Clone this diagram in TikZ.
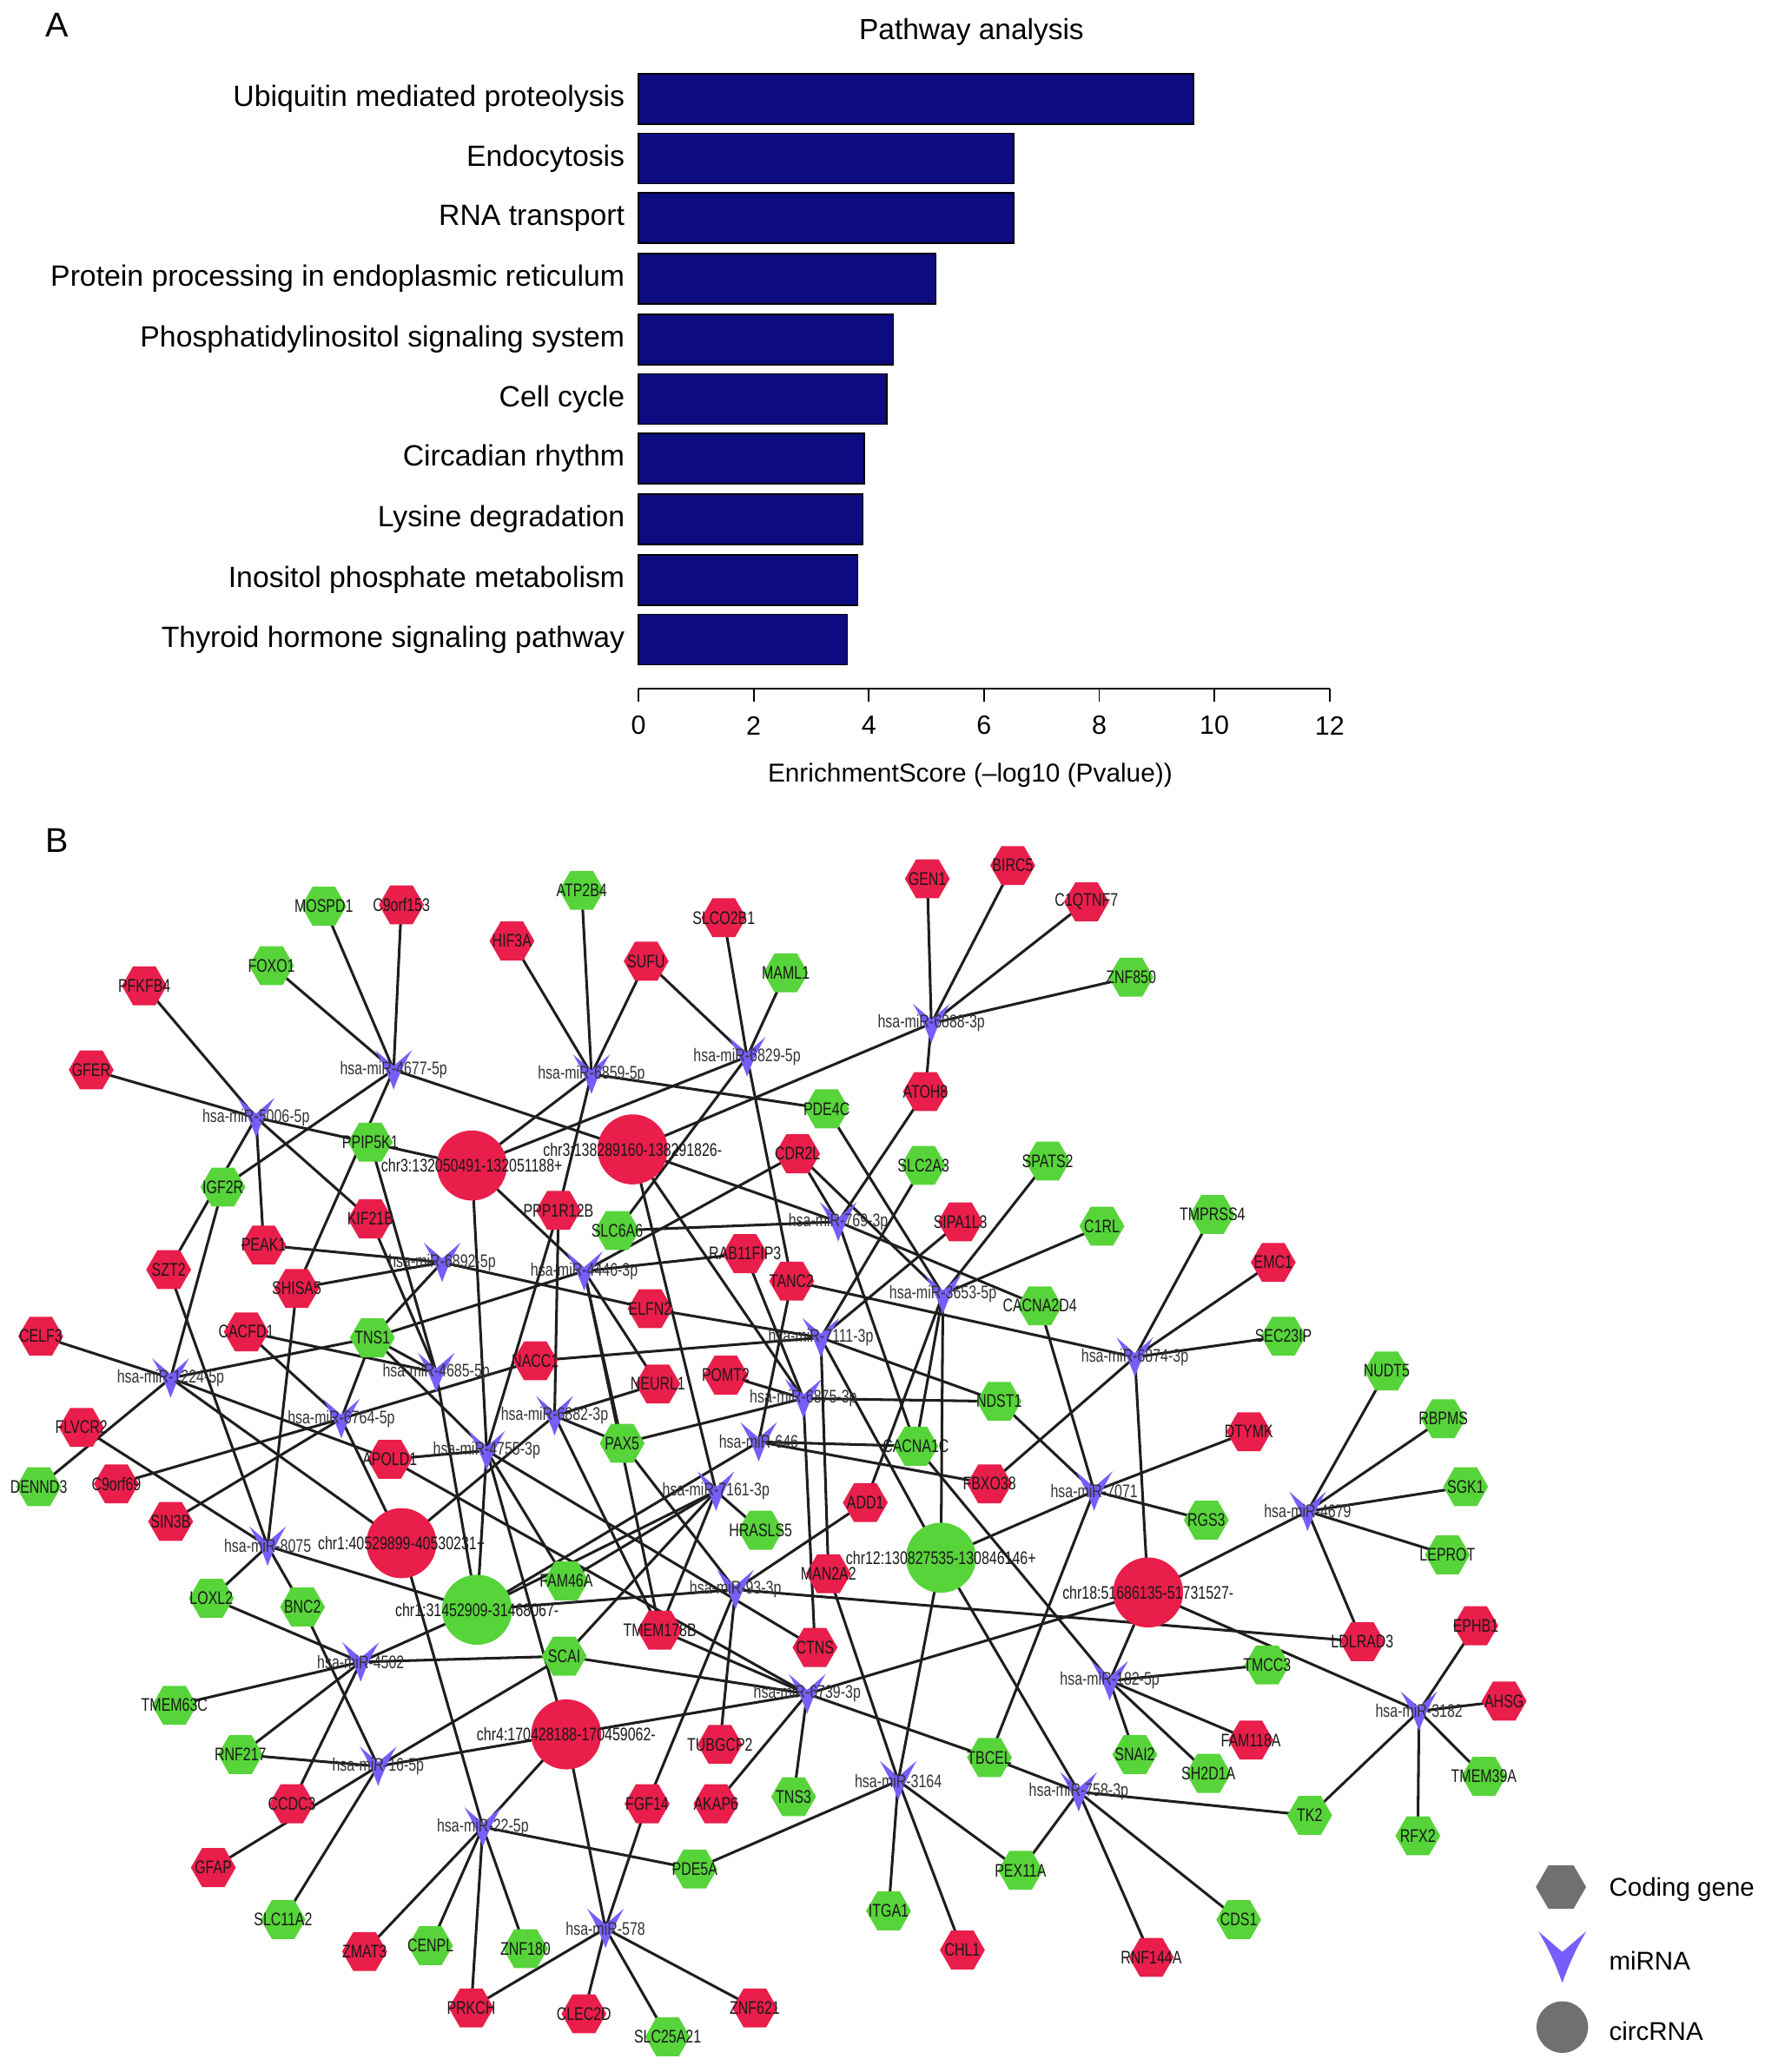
\documentclass[tikz,border=0pt]{standalone}
\usepackage{fontspec}
\setmainfont{Liberation Sans}
\usetikzlibrary{shapes.geometric,backgrounds}
\definecolor{gred}{RGB}{233,30,75}
\definecolor{ggreen}{RGB}{87,212,58}
\definecolor{mirc}{RGB}{118,94,250}
\definecolor{navy}{RGB}{12,12,128}
\definecolor{lgray}{RGB}{112,112,112}
\definecolor{txt}{RGB}{25,25,25}
\definecolor{mtxt}{RGB}{50,50,50}
\definecolor{edgec}{RGB}{30,30,30}
\newcommand{\lab}[1]{\scalebox{0.76}[1]{#1}}
\newcommand{\gene}[5]{\node[hex,fill=#1,label={[lbl]center:\lab{#5}}] (#2) at (#3,#4) {};}
\newcommand{\circrna}[5]{\node[circ,fill=#1,label={[lbl]center:\lab{#5}}] (#2) at (#3,#4) {};}
\newcommand{\mirshape}{(-14,-15) -- (0,-3) -- (14,-15) .. controls (8,-5) and (4,4) .. (0,15) .. controls (-4,4) and (-8,-5) .. (-14,-15) -- cycle}
\newcommand{\mirna}[4]{\fill[mirc,shift={(#2,#3)}] \mirshape;
  \node[lbl,text=mtxt] (#1) at (#2,#3) {\lab{#4}};}
\begin{document}
\begin{tikzpicture}[x=0.5pt,y=-0.5pt,
  lbl/.style={font=\fontsize{6.9pt}{7.5pt}\selectfont, text=txt, inner sep=0pt},
  hex/.style={regular polygon, regular polygon sides=6, minimum size=17pt, inner sep=0pt, draw=none},
  circ/.style={circle, minimum size=26.5pt, inner sep=0pt, draw=none},
  edge/.style={draw=edgec, line width=1pt},
  cat/.style={anchor=east, inner sep=0pt, font=\fontsize{11.1pt}{13pt}\selectfont},
  bar/.style={fill=navy, draw=black, line width=0.5pt},
  legt/.style={anchor=west, inner sep=0pt, font=\fontsize{9.7pt}{11pt}\selectfont}]
\useasboundingbox (0,0) rectangle (1335,1568);

% ---------------- Panel A ----------------
\node[font=\fontsize{13pt}{15pt}\selectfont] (lA) at (43,19) {A};
\node[font=\fontsize{11pt}{13pt}\selectfont] (title) at (735,24) {Pathway analysis};
\foreach \n/\yc/\xe/\t in {1/75/903/Ubiquitin mediated proteolysis,
  2/120/767/Endocytosis,
  3/165/767/RNA transport,
  4/211/708/Protein processing in endoplasmic reticulum,
  5/257/676/Phosphatidylinositol signaling system,
  6/302/671/Cell cycle,
  7/347/654/Circadian rhythm,
  8/393/653/Lysine degradation,
  9/439/649/Inositol phosphate metabolism,
  10/484/641/Thyroid hormone signaling pathway} {
  \draw[bar] (483,\yc-19) rectangle (\xe,\yc+19);
  \node[cat] (cat\n) at (473,\yc) {\t};
}
\draw[line width=0.6pt] (483,521) -- (1006,521);
\foreach \i in {0,2,...,12} {
  \draw[line width=0.6pt] ({483+43.58*\i},521) -- ({483+43.58*\i},531);
  \node[font=\fontsize{10pt}{12pt}\selectfont] (t\i) at ({483+43.58*\i},549) {\i};
}
\node[font=\fontsize{9.8pt}{12pt}\selectfont] (xt) at (734,587) {EnrichmentScore (–log10 (Pvalue))};

% ---------------- Panel B ----------------
\node[font=\fontsize{13pt}{15pt}\selectfont] (lB) at (43,636) {B};

% circRNAs
\circrna{gred}{c132}{357}{882}{chr3:132050491-132051188+}
\circrna{gred}{c138}{478.6}{869.8}{chr3:138289160-138291826-}
\circrna{gred}{c405}{303.7}{1167.8}{chr1:40529899-40530231+}
\circrna{ggreen}{c1308}{711.9}{1178.8}{chr12:130827535-130846146+}
\circrna{ggreen}{c314}{360.9}{1218.2}{chr1:31452909-31468067-}
\circrna{gred}{c516}{868.6}{1205.1}{chr18:51686135-51731527-}
\circrna{gred}{c1704}{428.4}{1312.5}{chr4:170428188-170459062-}

% genes
\gene{gred}{GEN1}{701.6}{665}{GEN1}
\gene{gred}{BIRC5}{766.2}{655}{BIRC5}
\gene{gred}{C1QTNF7}{822}{682.5}{C1QTNF7}
\gene{ggreen}{ZNF850}{855.7}{739.5}{ZNF850}
\gene{gred}{ATOH8}{700.2}{826}{ATOH8}
\gene{ggreen}{MOSPD1}{245}{685.8}{MOSPD1}
\gene{gred}{C9orf153}{303.7}{684.7}{C9orf153}
\gene{ggreen}{ATP2B4}{440.1}{673.7}{ATP2B4}
\gene{gred}{HIF3A}{387.3}{712.1}{HIF3A}
\gene{ggreen}{FOXO1}{205.4}{730.7}{FOXO1}
\gene{gred}{PFKFB4}{109.2}{746}{PFKFB4}
\gene{gred}{GFER}{69}{809.6}{GFER}
\gene{ggreen}{PPIP5K1}{280.2}{864.3}{PPIP5K1}
\gene{gred}{SLCO2B1}{547.6}{694.5}{SLCO2B1}
\gene{gred}{SUFU}{488.9}{727.4}{SUFU}
\gene{ggreen}{MAML1}{594.5}{736.2}{MAML1}
\gene{ggreen}{PDE4C}{625.4}{839.1}{PDE4C}
\gene{gred}{CDR2L}{603.4}{873.1}{CDR2L}
\gene{ggreen}{SLC2A3}{698.7}{881.9}{SLC2A3}
\gene{ggreen}{SPATS2}{792.6}{878.6}{SPATS2}
\gene{ggreen}{IGF2R}{168.7}{898.3}{IGF2R}
\gene{gred}{KIF21B}{280.2}{922.4}{KIF21B}
\gene{gred}{PEAK1}{199.5}{942.2}{PEAK1}
\gene{gred}{SZT2}{127.6}{960.8}{SZT2}
\gene{gred}{SHISA5}{224.5}{975}{SHISA5}
\gene{gred}{CACFD1}{186.3}{1007.9}{CACFD1}
\gene{ggreen}{TNS1}{281.7}{1012.3}{TNS1}
\gene{gred}{CELF3}{30.8}{1011.2}{CELF3}
\gene{gred}{NACC1}{405}{1029.8}{NACC1}
\gene{gred}{FLVCR2}{61.6}{1080.2}{FLVCR2}
\gene{gred}{APOLD1}{294.9}{1104.3}{APOLD1}
\gene{gred}{C9orf69}{88}{1122.9}{C9orf69}
\gene{ggreen}{DENND3}{29.3}{1125.1}{DENND3}
\gene{gred}{PPP1R12B}{422.5}{915.9}{PPP1R12B}
\gene{ggreen}{SLC6A6}{466.9}{931.2}{SLC6A6}
\gene{gred}{RAB11FIP3}{563.7}{948.7}{RAB11FIP3}
\gene{gred}{TANC2}{599}{969.5}{TANC2}
\gene{gred}{SIPA1L3}{726.6}{924.6}{SIPA1L3}
\gene{ggreen}{C1RL}{833.7}{927.9}{C1RL}
\gene{ggreen}{CACNA2D4}{786.7}{988.2}{CACNA2D4}
\gene{gred}{ELFN2}{491.9}{990.4}{ELFN2}
\gene{gred}{NEURL1}{497.7}{1047.3}{NEURL1}
\gene{gred}{POMT2}{549.1}{1040.7}{POMT2}
\gene{ggreen}{NDST1}{755.9}{1060.5}{NDST1}
\gene{ggreen}{PAX5}{470.7}{1092.2}{PAX5}
\gene{ggreen}{CACNA1C}{692.9}{1094.4}{CACNA1C}
\gene{gred}{FBXO38}{748.6}{1122.9}{FBXO38}
\gene{gred}{ADD1}{654.7}{1137.1}{ADD1}
\gene{ggreen}{TMPRSS4}{917.3}{919.1}{TMPRSS4}
\gene{gred}{EMC1}{963.3}{955.3}{EMC1}
\gene{ggreen}{SEC23IP}{971}{1011.2}{SEC23IP}
\gene{ggreen}{NUDT5}{1049.1}{1037.5}{NUDT5}
\gene{ggreen}{RBPMS}{1092}{1073.6}{RBPMS}
\gene{gred}{DTYMK}{944.9}{1083.5}{DTYMK}
\gene{ggreen}{SGK1}{1108.9}{1125.1}{SGK1}
\gene{gred}{SIN3B}{129.1}{1151.4}{SIN3B}
\gene{ggreen}{LOXL2}{159.9}{1209.5}{LOXL2}
\gene{ggreen}{BNC2}{228.9}{1216.1}{BNC2}
\gene{ggreen}{FAM46A}{428.4}{1196.3}{FAM46A}
\gene{ggreen}{SCAI}{426.9}{1253.3}{SCAI}
\gene{ggreen}{TMEM63C}{132}{1290.5}{TMEM63C}
\gene{ggreen}{RNF217}{181.9}{1327.8}{RNF217}
\gene{gred}{CCDC3}{220.8}{1365}{CCDC3}
\gene{ggreen}{HRASLS5}{575.5}{1158}{HRASLS5}
\gene{gred}{MAN2A2}{626.8}{1190.9}{MAN2A2}
\gene{gred}{TMEM178B}{499.2}{1233.6}{TMEM178B}
\gene{gred}{CTNS}{616.6}{1246.7}{CTNS}
\gene{gred}{TUBGCP2}{544.7}{1320.1}{TUBGCP2}
\gene{ggreen}{TBCEL}{748.6}{1330}{TBCEL}
\gene{ggreen}{SNAI2}{858.6}{1327.8}{SNAI2}
\gene{ggreen}{TNS3}{600.4}{1359.6}{TNS3}
\gene{gred}{FGF14}{489.6}{1365}{FGF14}
\gene{gred}{AKAP6}{541.7}{1365}{AKAP6}
\gene{ggreen}{RGS3}{912.7}{1150.3}{RGS3}
\gene{ggreen}{LEPROT}{1095.1}{1176.6}{LEPROT}
\gene{gred}{EPHB1}{1116.5}{1230.3}{EPHB1}
\gene{gred}{LDLRAD3}{1030.7}{1242.3}{LDLRAD3}
\gene{ggreen}{TMCC3}{958.7}{1259.9}{TMCC3}
\gene{gred}{AHSG}{1138}{1287.3}{AHSG}
\gene{gred}{FAM118A}{946.4}{1316.8}{FAM118A}
\gene{ggreen}{SH2D1A}{914.3}{1342}{SH2D1A}
\gene{ggreen}{TMEM39A}{1122.7}{1344.2}{TMEM39A}
\gene{gred}{GFAP}{161.4}{1413.3}{GFAP}
\gene{ggreen}{SLC11A2}{214.2}{1452.7}{SLC11A2}
\gene{gred}{ZMAT3}{275.8}{1476.8}{ZMAT3}
\gene{ggreen}{CENPL}{325.7}{1472.4}{CENPL}
\gene{ggreen}{ZNF180}{397.6}{1474.6}{ZNF180}
\gene{gred}{PRKCH}{356.5}{1519.5}{PRKCH}
\gene{gred}{CLEC2D}{441.8}{1523.9}{CLEC2D}
\gene{ggreen}{PDE5A}{525.6}{1414.4}{PDE5A}
\gene{ggreen}{ITGA1}{672.3}{1446.1}{ITGA1}
\gene{gred}{CHL1}{728.1}{1475.7}{CHL1}
\gene{ggreen}{PEX11A}{772.1}{1415.4}{PEX11A}
\gene{gred}{RNF144A}{871}{1481.2}{RNF144A}
\gene{gred}{ZNF621}{571.1}{1519.5}{ZNF621}
\gene{ggreen}{SLC25A21}{505.1}{1541.4}{SLC25A21}
\gene{ggreen}{TK2}{990.9}{1373.8}{TK2}
\gene{ggreen}{RFX2}{1072.7}{1389.2}{RFX2}
\gene{ggreen}{CDS1}{937.2}{1452.7}{CDS1}

% miRNAs
\mirna{m6888}{704.6}{774.5}{hsa-miR-6888-3p}
\mirna{m4677}{297.8}{809.6}{hsa-miR-4677-5p}
\mirna{m6859}{447.5}{812.9}{hsa-miR-6859-5p}
\mirna{m6829}{565.2}{799.7}{hsa-miR-6829-5p}
\mirna{m5006}{193.7}{845.7}{hsa-miR-5006-5p}
\mirna{m769}{634.2}{924.6}{hsa-miR-769-3p}
\mirna{m6892}{334.5}{955.3}{hsa-miR-6892-5p}
\mirna{m4446}{442}{961.9}{hsa-miR-4446-3p}
\mirna{m3653}{713.4}{979.4}{hsa-miR-3653-5p}
\mirna{m7111}{621}{1012.3}{hsa-miR-7111-3p}
\mirna{m6874}{858.6}{1027}{hsa-miR-6874-3p}
\mirna{m4685}{330}{1038.6}{hsa-miR-4685-5p}
\mirna{m1224}{129.1}{1042.9}{hsa-miR-1224-5p}
\mirna{m6875}{607.8}{1058.3}{hsa-miR-6875-3p}
\mirna{m6764}{258.2}{1073.6}{hsa-miR-6764-5p}
\mirna{m6882}{419.6}{1071.4}{hsa-miR-6882-3p}
\mirna{m646}{574}{1091.1}{hsa-miR-646}
\mirna{m4755}{368.2}{1097.7}{hsa-miR-4755-3p}
\mirna{m7071}{827.8}{1128.4}{hsa-miR-7071}
\mirna{m7161}{541.7}{1128.4}{hsa-miR-7161-3p}
\mirna{m4679}{989.3}{1143.7}{hsa-miR-4679}
\mirna{m8075}{202.5}{1170}{hsa-miR-8075}
\mirna{m93}{556.4}{1202.9}{hsa-miR-93-3p}
\mirna{m4502}{272.9}{1257.7}{hsa-miR-4502}
\mirna{m182}{839.6}{1271.9}{hsa-miR-182-5p}
\mirna{m6739}{610.7}{1281.8}{hsa-miR-6739-3p}
\mirna{m3182}{1073.6}{1294.9}{hsa-miR-3182}
\mirna{m16}{286.1}{1336.6}{hsa-miR-16-5p}
\mirna{m3164}{679.6}{1347.5}{hsa-miR-3164}
\mirna{m758}{816.1}{1356}{hsa-miR-758-3p}
\mirna{m22}{365.3}{1382.6}{hsa-miR-22-5p}
\mirna{m578}{458.1}{1459.3}{hsa-miR-578}

% edges (under the nodes)
\begin{pgfonlayer}{background}
\foreach \m/\l in {
 m6888/{GEN1,BIRC5,C1QTNF7,ZNF850,ATOH8,c138},
 m4677/{MOSPD1,C9orf153,FOXO1,IGF2R,SHISA5,c138},
 m6859/{ATP2B4,HIF3A,SUFU,PDE4C,c132,PPP1R12B},
 m6829/{SLCO2B1,SUFU,MAML1,c132,SLC6A6,TANC2},
 m5006/{PFKFB4,GFER,c132,SZT2,PEAK1,KIF21B},
 m769/{ATOH8,CDR2L,SLC6A6,CACNA2D4,CACNA1C,c138},
 m6892/{PEAK1,SHISA5,TNS1,ELFN2},
 m4446/{CDR2L,RAB11FIP3,PAX5,NEURL1,c132,TNS1,TMEM178B},
 m3653/{PDE4C,SPATS2,C1RL,CACNA1C,c1308,ADD1,CDR2L},
 m7111/{SLC2A3,SIPA1L3,NACC1,ELFN2,NDST1,MAN2A2,c1308},
 m6874/{TMPRSS4,EMC1,SEC23IP,c516,TANC2,FBXO38},
 m4685/{CACFD1,KIF21B,TNS1,c314,PPIP5K1},
 m1224/{CELF3,IGF2R,TNS1,DENND3,APOLD1,c405},
 m6875/{RAB11FIP3,POMT2,PAX5,NDST1,CTNS,c138},
 m6764/{C9orf69,SIN3B,TNS1,c405,NACC1,CACFD1},
 m6882/{c405,PPP1R12B,NEURL1,PAX5,TMEM178B},
 m646/{TANC2,CACNA1C,FBXO38,c314},
 m4755/{APOLD1,TNS1,c132,c314,FAM46A,PPP1R12B,c1704,CTNS},
 m7071/{CACNA2D4,NDST1,RGS3,DTYMK,TBCEL,c1308},
 m7161/{HRASLS5,FAM46A,SCAI,TMEM178B,c314,c138},
 m4679/{NUDT5,RBPMS,SGK1,LEPROT,LDLRAD3,c516},
 m8075/{FLVCR2,SZT2,SHISA5,LOXL2,BNC2,c314},
 m93/{ADD1,TUBGCP2,FGF14,LDLRAD3,c314,PAX5},
 m4502/{LOXL2,TMEM63C,SCAI,c314,RNF217,CCDC3},
 m182/{TMCC3,FAM118A,SH2D1A,SNAI2,c516,CACNA1C},
 m6739/{TMEM178B,SCAI,AKAP6,TNS3,c1704,c516,TBCEL,APOLD1},
 m3182/{EPHB1,AHSG,TMEM39A,RFX2,TK2,c516},
 m16/{RNF217,SCAI,c1704,BNC2,GFAP,SLC11A2},
 m3164/{MAN2A2,c1308,PDE5A,ITGA1,CHL1,PEX11A},
 m758/{TBCEL,c1308,PEX11A,RNF144A,CDS1,TK2},
 m22/{c405,ZMAT3,CENPL,PRKCH,ZNF180,PDE5A,c1704},
 m578/{c1704,FGF14,PRKCH,CLEC2D,SLC25A21,ZNF621}} {
  \foreach \g in \l { \draw[edge] (\m.center) -- (\g.center); }
}
\end{pgfonlayer}

% legend
\node[hex,fill=lgray,minimum size=19pt] (lghex) at (1181,1428) {};
\node[legt] (lgt1) at (1217,1430) {Coding gene};
\fill[mirc,shift={(1182,1481)},scale=1.3] \mirshape;
\node[inner sep=0pt,minimum size=1pt] (lgmir) at (1182,1481) {};
\node[legt] (lgt2) at (1217,1484) {miRNA};
\node[circle,fill=lgray,minimum size=19.5pt,inner sep=0pt] (lgcirc) at (1182,1534) {};
\node[legt] (lgt3) at (1217,1537) {circRNA};
\end{tikzpicture}
\end{document}
